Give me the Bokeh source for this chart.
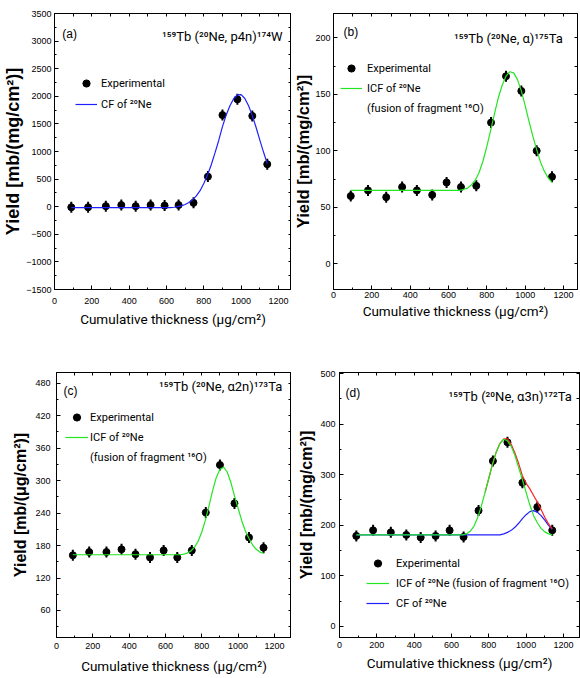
from math import pi
from bokeh.plotting import figure
from bokeh.layouts import column, row
from bokeh.models import (LinearAxis, SingleIntervalTicker, FixedTicker, Range1d, Label,
                          Legend, LegendItem)
from bokeh.embed import file_html
from bokeh.resources import INLINE

# ---------------- data ----------------
thickness = [90, 180, 275, 358, 435, 515, 590, 665, 745, 822, 900, 980, 1060, 1140]

yield_a = [-10, -10, 10, 30, 10, 30, 20, 30, 70, 545, 1660, 1945, 1645, 770]
yield_b = [60, 65, 59, 68, 65, 61, 72, 68, 69, 125, 166, 153, 100, 77]
yield_c = [162, 168, 168, 173, 164, 158, 171, 158, 171, 241, 329, 258, 195, 176]
yield_d = [179, 190, 186, 181, 176, 179, 190, 177, 229, 327, 364, 284, 236, 190]

# (a) CF of 20Ne
cf_a_x = [90, 620, 640, 660, 680, 700, 720, 740, 760, 780, 800, 820, 840, 860, 880,
          900, 920, 940, 960, 980, 1000, 1020, 1040, 1060, 1080, 1100, 1120, 1140]
cf_a_y = [-15, -15, -10, 0, 15, 40, 75, 125, 195, 290, 420, 575, 760, 975, 1200,
          1450, 1660, 1830, 1955, 2025, 2030, 1960, 1830, 1650, 1440, 1210, 990, 780]

# (b) ICF of 20Ne (fusion of fragment 16O)
icf_b_x = [90, 660, 680, 700, 720, 740, 760, 780, 800, 820, 840, 860, 880, 900,
           920, 940, 960, 980, 1000, 1020, 1040, 1060, 1080, 1100, 1120, 1140]
icf_b_y = [65, 65, 66, 67, 70, 74, 81, 91, 104, 118, 133, 147, 158, 166,
           170, 169, 163, 153, 140, 126, 113, 101, 90, 82, 76, 72]

# (c) ICF of 20Ne (fusion of fragment 16O)
icf_c_x = [90, 680, 700, 720, 740, 760, 780, 800, 820, 840, 860, 880, 900, 920,
           940, 960, 980, 1000, 1020, 1040, 1060, 1080, 1100, 1120, 1140]
icf_c_y = [163, 163, 164, 166, 170, 177, 188, 205, 227, 254, 282, 306, 321, 325,
           316, 297, 272, 249, 226, 207, 193, 181, 173, 168, 166]

# (d) ICF (green), CF (blue), sum (red)
icf_d_x = [90, 660, 680, 700, 720, 740, 760, 780, 800, 820, 840, 860, 880,
           900, 920, 940, 960, 980, 1000, 1020, 1040, 1060, 1080, 1100, 1120, 1140]
icf_d_y = [181, 181, 183, 188, 198, 215, 238, 265, 293, 321, 345, 362, 370,
           367, 356, 338, 314, 290, 265, 240, 219, 205, 194, 187, 183, 181]
cf_d_x = [90, 860, 880, 900, 920, 940, 960, 980, 1000, 1020, 1040, 1060, 1080, 1100, 1120, 1140]
cf_d_y = [181, 181, 183, 186, 190, 196, 204, 213, 221, 227, 229, 226, 219, 210, 200, 192]
sum_d_x = [780, 800, 820, 840, 860, 880, 900, 920, 940, 960, 980, 1000, 1020,
           1040, 1060, 1080, 1100, 1120, 1140]
sum_d_y = [265, 293, 321, 345, 362, 371, 371, 360, 343, 322, 298, 283, 272,
           259, 246, 231, 216, 203, 193]

SANS = "Liberation Sans"
TXT = "Roboto"
GREEN = "#22e622"
BLUE = "#2020ff"
RED = "#ff2020"


def panel(width, height, borders, x_end, y_range, y_step, ylabel, ylabel_size,
          x_std, x_lbl_std, y_std, y_lbl_std):
    bl, br, bt, bb = borders
    p = figure(width=width, height=height, x_range=Range1d(0, x_end), y_range=Range1d(*y_range),
               output_backend="svg", toolbar_location=None,
               min_border_left=bl, min_border_right=br, min_border_top=bt, min_border_bottom=bb,
               background_fill_color="white", border_fill_color="white")
    p.xgrid.visible = False
    p.ygrid.visible = False
    p.outline_line_color = "black"
    p.outline_line_width = 1
    bottom = p.below[0]
    left = p.left[0]
    bottom.ticker = SingleIntervalTicker(interval=200, num_minor_ticks=2)
    left.ticker = SingleIntervalTicker(interval=y_step, num_minor_ticks=2)
    # mirrored tick marks (no labels) on top and right
    half = int(y_step / 2)
    y_lo = int(y_range[0] // half) * half
    top = LinearAxis(ticker=FixedTicker(ticks=[], minor_ticks=list(range(0, x_end + 1, 100))))
    right = LinearAxis(ticker=FixedTicker(
        ticks=[], minor_ticks=list(range(y_lo, int(y_range[1]) + 1, half))))
    p.add_layout(top, "above")
    p.add_layout(right, "right")
    for ax in (bottom, left, top, right):
        ax.major_tick_in = 4
        ax.major_tick_out = 0
        ax.minor_tick_in = 2
        ax.minor_tick_out = 0
        ax.axis_line_color = "black"
        ax.major_tick_line_color = "black"
        ax.minor_tick_line_color = "black"
        ax.major_label_text_font = SANS
        ax.major_label_text_font_size = "9px"
        ax.major_label_text_color = "black"
    for ax in (top, right):
        ax.minor_tick_in = 3
        ax.major_label_standoff = 0
    bottom.axis_label = "Cumulative thickness (μg/cm²)"
    bottom.axis_label_text_font = TXT
    bottom.axis_label_text_font_size = "13.5px"
    bottom.axis_label_text_font_style = "normal"
    bottom.axis_label_text_color = "black"
    bottom.major_label_standoff = x_std
    bottom.axis_label_standoff = x_lbl_std
    left.axis_label = ylabel
    left.axis_label_text_font = SANS
    left.axis_label_text_font_size = ylabel_size
    left.axis_label_text_font_style = "bold"
    left.axis_label_text_color = "black"
    left.major_label_standoff = y_std
    left.axis_label_standoff = y_lbl_std
    return p


def experimental(p, ys):
    dots = p.scatter(thickness, ys, marker="circle", size=7, fill_color="black", line_color="black")
    bars = p.scatter(thickness, ys, marker="dash", size=11, angle=pi / 2, line_color="black", line_width=2)
    return [dots, bars]


def legend(p, items, loc, glyph_w, standoff, spacing):
    lg = Legend(items=items, location=loc, border_line_color=None, background_fill_alpha=0,
                padding=0, margin=0, spacing=spacing, glyph_width=glyph_w, glyph_height=18,
                label_height=18, label_standoff=standoff, label_text_font=TXT,
                label_text_font_size="11px", label_text_color="black")
    p.add_layout(lg)


def annot(p, x, y, text, align, baseline, font, size):
    p.add_layout(Label(x=x, y=y, text=text, text_align=align, text_baseline=baseline,
                       text_font=font, text_font_size=size, text_color="black"))


# ---------------- (a) ----------------
pa = panel(291, 330, (52, 0, 13, 41), 1270, (-1500, 3500), 500,
           "Yield [mb/(mg/cm²)]", "18px", 8, 4, 3, 0)
exp_a = experimental(pa, yield_a)
ln_a = pa.line(cf_a_x, cf_a_y, line_color=BLUE, line_width=1.2)
legend(pa, [LegendItem(label="Experimental", renderers=exp_a),
            LegendItem(label="CF of ²⁰Ne", renderers=[ln_a])], (21, 176), 22, 4, 3)
annot(pa, 1222, 3089, "¹⁵⁹Tb (²⁰Ne, p4n)¹⁷⁴W", "right", "alphabetic", TXT, "13px")
annot(pa, 42, 3129, "(a)", "left", "middle", SANS, "12px")

# ---------------- (b) ----------------
pb = panel(289, 330, (41, 3, 13, 41), 1273, (-22.7, 221.5), 50,
           "Yield [mb/(mg/cm²)]", "16.5px", 2, 2, 3, 0)
exp_b = experimental(pb, yield_b)
ln_b = pb.line(icf_b_x, icf_b_y, line_color=GREEN, line_width=1.2)
dummy_b = pb.line([], [], line_alpha=0)
legend(pb, [LegendItem(label="Experimental", renderers=exp_b),
            LegendItem(label="ICF of ²⁰Ne", renderers=[ln_b]),
            LegendItem(label="(fusion of fragment ¹⁶O)", renderers=[dummy_b])], (7, 172), 22, 5, 2)
annot(pb, 1196, 199.1, "¹⁵⁹Tb (²⁰Ne, α)¹⁷⁵Ta", "right", "alphabetic", TXT, "13px")
annot(pb, 52, 205.1, "(b)", "left", "middle", SANS, "12px")

# ---------------- (c) ----------------
pc = panel(291, 348, (56, 0, 42, 41), 1294, (10, 500), 60,
           "Yield [mb/(μg/cm²)]", "16px", 5, 6, 6, 3)
exp_c = experimental(pc, yield_c)
ln_c = pc.line(icf_c_x, icf_c_y, line_color=GREEN, line_width=1.2)
dummy_c = pc.line([], [], line_alpha=0)
legend(pc, [LegendItem(label="Experimental", renderers=exp_c),
            LegendItem(label="ICF of ²⁰Ne", renderers=[ln_c]),
            LegendItem(label="(fusion of fragment ¹⁶O)", renderers=[dummy_c])], (9, 171), 23, 2, 2)
annot(pc, 1243, 474, "¹⁵⁹Tb (²⁰Ne, α2n)¹⁷³Ta", "right", "alphabetic", TXT, "13px")
annot(pc, 38, 465, "(c)", "left", "middle", SANS, "12px")

# ---------------- (d) ----------------
pd_ = panel(289, 348, (48, 1, 42, 41), 1286, (-21.8, 502), 100,
            "Yield [mb/(mg/cm²)]", "16px", 4, 4, 4, 2)
exp_d = experimental(pd_, yield_d)
ln_d_cf = pd_.line(cf_d_x, cf_d_y, line_color=BLUE, line_width=1.2)
ln_d_sum = pd_.line(sum_d_x, sum_d_y, line_color=RED, line_width=1.2)
ln_d_icf = pd_.line(icf_d_x, icf_d_y, line_color=GREEN, line_width=1.2)
legend(pd_, [LegendItem(label="Experimental", renderers=exp_d),
             LegendItem(label="ICF of ²⁰Ne (fusion of fragment ¹⁶O)", renderers=[ln_d_icf]),
             LegendItem(label="CF of ²⁰Ne", renderers=[ln_d_cf])], (27, 25), 23, 7, 2)
annot(pd_, 1245, 454.6, "¹⁵⁹Tb (²⁰Ne, α3n)¹⁷²Ta", "right", "alphabetic", TXT, "13px")
annot(pd_, 32, 461.5, "(d)", "left", "middle", SANS, "12px")

layout = column(row(pa, pb), row(pc, pd_))
open("out.html", "w").write(file_html(layout, INLINE, "Yield curves"))
